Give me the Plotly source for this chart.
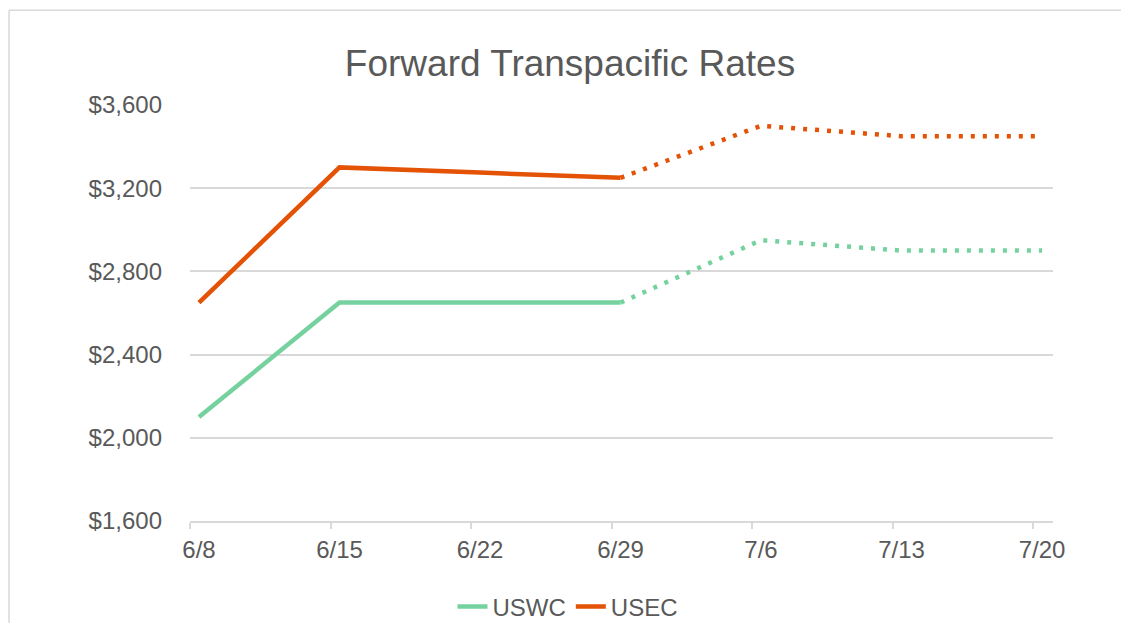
import plotly.graph_objects as go

weeks = ["6/8", "6/15", "6/22", "6/29", "7/6", "7/13", "7/20"]
uswc = [2100, 2650, 2650, 2650, 2950, 2900, 2900]
usec = [2650, 3300, 3275, 3250, 3500, 3450, 3450]
actual_count = 4  # first 4 points solid (6/8..6/29), rest forecast (dotted)
y_ticks = [1600, 2000, 2400, 2800, 3200, 3600]
y_labels = ["$1,600", "$2,000", "$2,400", "$2,800", "$3,200", "$3,600"]

GREEN = "#75D29E"
ORANGE = "#E35205"
TXT = "#595959"
FONT = "Liberation Sans, Arial, sans-serif"

x = list(range(len(weeks)))

def split(vals):
    solid = [v if i < actual_count else None for i, v in enumerate(vals)]
    dotted = [v if i >= actual_count - 1 else None for i, v in enumerate(vals)]
    return solid, dotted

fig = go.Figure()
for name, vals, col in [("USWC", uswc, GREEN), ("USEC", usec, ORANGE)]:
    s, d = split(vals)
    fig.add_trace(go.Scatter(x=x, y=s, mode="lines", name=name,
                             line=dict(color=col, width=4.5), legendgroup=name))
    fig.add_trace(go.Scatter(x=x, y=d, mode="lines", name=name, showlegend=False,
                             line=dict(color=col, width=4.5, dash="4px,8px"),
                             legendgroup=name))

fig.update_layout(
    width=1121, height=623,
    margin=dict(l=190, r=68, t=105, b=102, autoexpand=False),
    paper_bgcolor="white", plot_bgcolor="white",
    font=dict(family=FONT, color=TXT, size=24),
    title=dict(text="Forward Transpacific Rates", x=0.5085, xanchor="center",
               y=1 - 63 / 623, yanchor="middle", xref="container", yref="container",
               font=dict(size=37, color=TXT, family=FONT)),
    legend=dict(orientation="h", x=0.438, xanchor="center", y=-0.2067,
                yanchor="middle", font=dict(size=24, color=TXT, family=FONT),
                bgcolor="rgba(0,0,0,0)"),
    showlegend=True,
)
fig.update_xaxes(range=[-0.064, 6.078], tickvals=x, ticktext=weeks,
                 showgrid=False, zeroline=False, showline=True,
                 linecolor="#d9d9d9", linewidth=1.5, ticks="",
                 ticklabelstandoff=6,
                 minor=dict(tick0=-0.064, dtick=1, ticks="outside", ticklen=6,
                            tickcolor="#d9d9d9", tickwidth=1.5, showgrid=False),
                 tickfont=dict(size=24, color=TXT, family=FONT))
fig.update_yaxes(range=[1600, 3600], tickvals=y_ticks, ticktext=y_labels,
                 showgrid=True, gridcolor="#d9d9d9", gridwidth=1.5,
                 zeroline=False, showline=False, ticks="",
                 ticklabelstandoff=27,
                 tickfont=dict(size=24, color=TXT, family=FONT))

# chart-area border (top and left edges visible in the reference)
fig.add_shape(type="line", xref="paper", yref="paper",
              x0=-0.2097, x1=1.1, y0=1.228, y1=1.228,
              line=dict(color="#d9d9d9", width=1.5), layer="below")
fig.add_shape(type="line", xref="paper", yref="paper",
              x0=-0.2097, x1=-0.2097, y0=-0.3, y1=1.228,
              line=dict(color="#d9d9d9", width=1.5), layer="below")

fig.write_html("out.html",
               config={"displayModeBar": False},
               post_script="document.body.style.margin='0px';"
                           "document.body.style.overflow='hidden';")
